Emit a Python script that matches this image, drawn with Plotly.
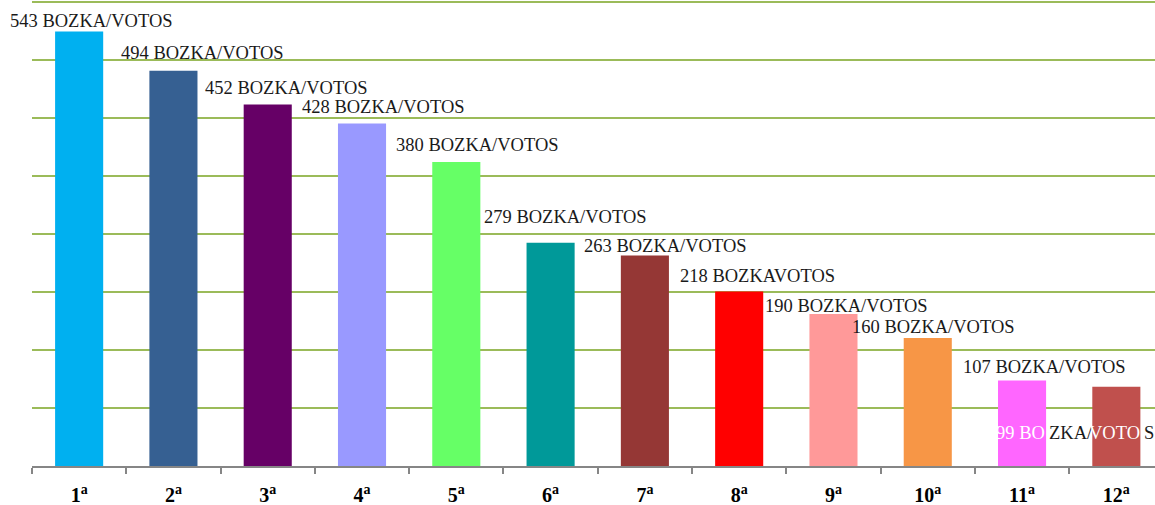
import plotly.graph_objects as go

categories = ["1<sup>a</sup>", "2<sup>a</sup>", "3<sup>a</sup>", "4<sup>a</sup>", "5<sup>a</sup>", "6<sup>a</sup>",
              "7<sup>a</sup>", "8<sup>a</sup>", "9<sup>a</sup>", "10<sup>a</sup>", "11<sup>a</sup>", "12<sup>a</sup>"]
votes = [543, 494, 452, 428, 380, 279, 263, 218, 190, 160, 107, 99]
labels = ["543 BOZKA/VOTOS", "494 BOZKA/VOTOS", "452 BOZKA/VOTOS", "428 BOZKA/VOTOS",
          "380 BOZKA/VOTOS", "279 BOZKA/VOTOS", "263 BOZKA/VOTOS", "218 BOZKAVOTOS",
          "190 BOZKA/VOTOS", "160 BOZKA/VOTOS", "107 BOZKA/VOTOS", "99 BOZKA/VOTOS"]
colors = ["#00B0F0", "#366092", "#660066", "#9999FF", "#66FF66", "#009999",
          "#953735", "#FF0000", "#FF9999", "#F79646", "#FF66FF", "#C0504D"]

# label placement offsets (pixels) relative to each bar's top-centre
label_dx = [-71, -54, -65, -62, -62, -69, -63, -61, -70, -78, -61, -117]
label_dy = [11, 18, 16, 17, 17, 26, 10, 16, 8, 11, 13, -46]

FONT = "Liberation Serif, serif"
LSIZE = 18.5
fig = go.Figure()
fig.add_trace(go.Bar(x=categories, y=votes, marker=dict(color=colors, line=dict(width=0)),
                     hoverinfo="skip"))

annotations = []
for i, (c, v, t) in enumerate(zip(categories, votes, labels)):
    if i == len(categories) - 1:
        # last label overlaps bars: split into segments so text over bars is white
        segs = [("99 BO", "white", 48, "right"), ("ZKA/", "#1a1a1a", 48, "left"),
                ("VOTO", "white", 143, "right"), ("S", "#1a1a1a", 143, "left")]
        for s, col, off, anc in segs:
            annotations.append(dict(x=c, y=v, text=s, showarrow=False, xanchor=anc, yanchor="middle",
                                    xshift=label_dx[i] + off, yshift=label_dy[i],
                                    font=dict(family=FONT, size=LSIZE, color=col)))
    else:
        annotations.append(dict(x=c, y=v, text=t, showarrow=False, xanchor="left", yanchor="middle",
                                xshift=label_dx[i], yshift=label_dy[i],
                                font=dict(family=FONT, size=LSIZE, color="#1a1a1a")))

fig.update_layout(
    width=1155, height=505,
    margin=dict(l=32, r=0, t=0, b=39),
    plot_bgcolor="white", paper_bgcolor="white",
    showlegend=False, bargap=0.49,
    annotations=annotations,
    xaxis=dict(range=[-0.5, 11.41], showgrid=False, showline=True, linecolor="#868686", linewidth=2,
               ticks="outside", tickson="boundaries", ticklen=6, tickcolor="#868686", tickwidth=2,
               ticklabelstandoff=10,
               tickfont=dict(family=FONT, size=20, color="black"), fixedrange=True),
    yaxis=dict(range=[0, 582.5], tickvals=[72.5 * k for k in range(1, 9)], showticklabels=False,
               showgrid=True, gridcolor="#9BBB59", gridwidth=2, zeroline=False, showline=False,
               fixedrange=True),
    hovermode=False,
)
fig.update_xaxes(tickprefix="<b>", ticksuffix="</b>")
fig.write_html("out.html", config={"displayModeBar": False},
               post_script="document.body.style.margin='0';")
